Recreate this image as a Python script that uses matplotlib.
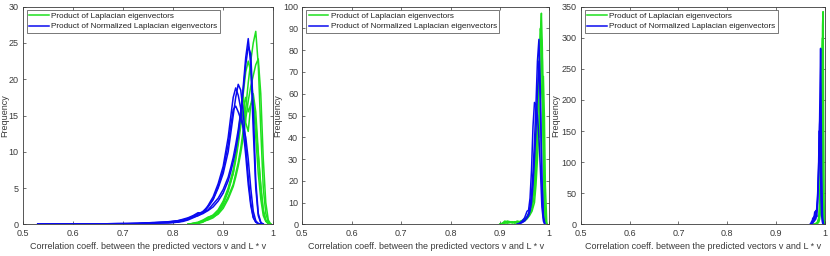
import numpy as np
import matplotlib
matplotlib.use("Agg")
import matplotlib.pyplot as plt

plt.rcParams['font.family'] = ['Liberation Sans', 'DejaVu Sans']

#legend labels and axis texts
green_label = 'Product of Laplacian eigenvectors'
blue_label = 'Product of Normalized Laplacian eigenvectors'
x_text = 'Correlation coeff. between the predicted vectors v and L * v'
y_text = 'Frequency'

x_ticks = [0.5, 0.6, 0.7, 0.8, 0.9, 1.0]
x_tick_labels = ['0.5', '0.6', '0.7', '0.8', '0.9', '1']

#panel 1 : green curves
gx1 = [0.830, 0.850, 0.860, 0.870, 0.880, 0.890, 0.900, 0.910, 0.920, 0.925, 0.930, 0.935,
       0.940, 0.945, 0.950, 0.955, 0.960, 0.965, 0.970, 0.975, 0.980, 0.985, 0.990, 0.995]
g1_a = [0, 0.2, 0.4, 0.6, 0.9, 1.5, 2.5, 3.8, 5.5, 7.0, 8.5, 10.5, 13.0, 16.0, 19.5, 22.5, 25.0, 26.6, 22.0, 13.0, 5.0, 1.5, 0.3, 0]
g1_b = [0, 0.1, 0.3, 0.8, 1.0, 1.4, 2.2, 3.5, 5.2, 6.5, 8.0, 9.8, 12.0, 14.5, 17.0, 19.0, 20.5, 22.0, 22.8, 18.0, 9.0, 3.0, 0.6, 0]
g1_c = [0, 0.2, 0.5, 0.9, 1.3, 2.0, 3.2, 5.0, 7.5, 9.2, 11.5, 14.5, 18.0, 21.0, 22.5, 21.0, 17.0, 12.0, 7.0, 3.5, 1.2, 0.4, 0.1, 0]
g1_d = [0, 0.3, 0.6, 1.0, 1.2, 1.6, 2.8, 4.5, 7.0, 9.5, 12.5, 15.5, 17.8, 14.0, 12.8, 16.5, 18.0, 15.5, 10.0, 5.0, 1.8, 0.5, 0.1, 0]
g1_e = [0, 0.2, 0.4, 0.7, 1.1, 1.8, 3.0, 4.8, 7.0, 8.8, 11.0, 13.5, 16.0, 17.5, 15.5, 16.5, 17.0, 14.0, 9.5, 5.5, 2.0, 0.6, 0.1, 0]

#panel 1 : blue curves
bx1 = [0.530, 0.570, 0.610, 0.650, 0.690, 0.730, 0.760, 0.790, 0.810, 0.820, 0.830, 0.840,
       0.850, 0.860, 0.870, 0.880, 0.890, 0.900, 0.910, 0.915, 0.920, 0.925, 0.930, 0.935,
       0.940, 0.945, 0.950, 0.955, 0.960, 0.965, 0.970, 0.975, 0.980]
b1_a = [0.0, 0.05, 0.05, 0.0, 0.05, 0.1, 0.2, 0.2, 0.3, 0.4, 0.6, 0.9, 1.2, 1.5, 1.9, 2.4, 3.2,
        4.3, 6.0, 7.2, 8.6, 10.2, 12.2, 15.0, 19.0, 23.0, 25.6, 22.0, 13.0, 5.0, 1.2, 0.2, 0.0]
b1_b = [0.0, 0.03, 0.05, 0.05, 0.03, 0.1, 0.15, 0.2, 0.3, 0.5, 0.7, 1.1, 1.5, 1.6, 2.0, 2.8, 3.6,
        4.8, 6.5, 7.8, 9.2, 11.0, 13.0, 15.5, 18.5, 22.0, 24.5, 23.5, 16.0, 6.0, 1.5, 0.3, 0.0]
b1_c = [0.05, 0.0, 0.05, 0.05, 0.1, 0.1, 0.25, 0.3, 0.5, 0.6, 0.8, 1.0, 1.2, 1.6, 2.4, 3.4, 5.0,
        7.0, 10.0, 12.5, 15.0, 17.5, 19.3, 18.5, 15.5, 11.0, 6.5, 3.0, 1.0, 0.3, 0.1, 0.0, 0.0]
b1_d = [0.0, 0.05, 0.03, 0.05, 0.1, 0.15, 0.2, 0.35, 0.5, 0.7, 0.9, 1.2, 1.6, 1.5, 2.6, 3.8, 5.6,
        8.0, 12.0, 14.8, 17.5, 18.8, 17.8, 16.0, 13.0, 9.5, 5.5, 2.6, 0.9, 0.3, 0.1, 0.0, 0.0]
b1_e = [0.0, 0.03, 0.05, 0.03, 0.05, 0.1, 0.2, 0.3, 0.4, 0.6, 0.8, 1.1, 1.4, 1.8, 2.5, 3.5, 5.2,
        7.5, 11.0, 13.5, 15.8, 16.3, 15.5, 14.5, 13.5, 12.0, 9.0, 5.0, 1.8, 0.5, 0.1, 0.0, 0.0]

#panel 2 : green curves
gx2 = [0.900, 0.905, 0.910, 0.915, 0.920, 0.925, 0.930, 0.935, 0.940, 0.945, 0.950, 0.955, 0.960,
       0.965, 0.970, 0.973, 0.976, 0.979, 0.982, 0.984, 0.986, 0.988, 0.990, 0.992, 0.995]
g2_a = [0, 0.5, 1.5, 1.0, 0.8, 1.2, 0.5, 0.8, 1.0, 1.5, 2.0, 3.0, 4.5, 7.0, 14.0, 25.0, 42.0, 65.0, 88.0, 97.0, 80.0, 45.0, 15.0, 3.0, 0]
g2_b = [0, 0.3, 0.8, 1.5, 1.2, 0.6, 1.0, 0.7, 1.2, 1.8, 2.5, 3.5, 5.0, 9.0, 18.0, 30.0, 48.0, 72.0, 90.0, 85.0, 60.0, 30.0, 10.0, 2.0, 0]
g2_c = [0, 0.2, 0.5, 0.8, 1.0, 0.8, 1.2, 1.0, 0.6, 1.0, 1.5, 2.5, 4.0, 6.0, 10.0, 18.0, 30.0, 44.0, 55.0, 62.0, 66.0, 68.0, 50.0, 18.0, 0]
g2_d = [0, 0.4, 1.0, 0.5, 0.8, 1.0, 0.8, 1.5, 1.2, 1.5, 2.0, 3.5, 6.0, 12.0, 25.0, 36.0, 44.0, 40.0, 60.0, 85.0, 75.0, 40.0, 12.0, 2.0, 0]

#panel 2 : blue curves
bx2 = [0.935, 0.940, 0.945, 0.950, 0.955, 0.958, 0.961, 0.964, 0.967, 0.970, 0.973, 0.976,
       0.979, 0.982, 0.985, 0.988, 0.991]
b2_a = [0, 0.5, 1.0, 2.0, 3.5, 5.0, 8.0, 14.0, 24.0, 38.0, 55.0, 75.0, 85.0, 60.0, 22.0, 4.0, 0]
b2_b = [0, 0.3, 0.8, 1.5, 3.0, 4.0, 6.0, 10.0, 18.0, 30.0, 43.0, 60.0, 75.0, 55.0, 20.0, 3.0, 0]
b2_c = [0, 0.5, 1.5, 3.0, 6.0, 6.5, 12.0, 25.0, 45.0, 56.0, 55.0, 50.0, 40.0, 25.0, 8.0, 1.5, 0]

#panel 3 : green curves
gx3 = [0.975, 0.980, 0.984, 0.987, 0.989, 0.990, 0.991, 0.992, 0.993, 0.994, 0.995, 0.996, 0.997, 0.998, 0.999]
g3_a = [0, 0, 1, 3, 8, 15, 30, 60, 120, 220, 320, 342, 200, 40, 0]
g3_b = [0, 0, 2, 5, 15, 30, 60, 120, 200, 280, 300, 200, 80, 10, 0]
g3_c = [0, 1, 3, 10, 40, 90, 160, 220, 250, 200, 120, 50, 10, 0, 0]

#panel 3 : blue curves
bx3 = [0.970, 0.973, 0.975, 0.977, 0.979, 0.981, 0.983, 0.985, 0.987, 0.988, 0.989, 0.990,
       0.991, 0.992, 0.993, 0.995, 0.997]
b3_a = [0, 2, 10, 4, 15, 8, 20, 40, 90, 130, 170, 230, 283, 200, 90, 10, 0]
b3_b = [0, 0, 5, 12, 6, 22, 12, 35, 80, 120, 160, 180, 150, 90, 40, 5, 0]
b3_c = [0, 5, 2, 8, 20, 10, 25, 50, 100, 150, 150, 120, 80, 40, 15, 2, 0]

panels = [
    (gx1, [g1_a, g1_b, g1_c, g1_d, g1_e], bx1, [b1_a, b1_b, b1_c, b1_d, b1_e], 30, 5),
    (gx2, [g2_a, g2_b, g2_c, g2_d], bx2, [b2_a, b2_b, b2_c], 100, 10),
    (gx3, [g3_a, g3_b, g3_c], bx3, [b3_a, b3_b, b3_c], 350, 50),
]

#axes boxes in pixels (left, width, ylabel offset from axis)
W, H = 830, 256
boxes = [(22.7, 250.6, -17.5), (302.3, 247.0, -25.0), (580.7, 244.3, -25.0)]
top_px, bottom_px = 6.7, 224.3

green = '#1fe01f'
blue = '#0b0bef'
axis_col = '#3a3a3a'

fig = plt.figure(figsize=(W / 100, H / 100), dpi=100)

for (gx, gys, bx, bys, ymax, ystep), (left, width, yoff) in zip(panels, boxes):
    ax = fig.add_axes([left / W, 1 - bottom_px / H, width / W, (bottom_px - top_px) / H])
    for i, gy in enumerate(gys):
        ax.plot(gx, gy, color=green, lw=1.1, label=green_label if i == 0 else None)
    for i, by in enumerate(bys):
        ax.plot(bx, by, color=blue, lw=1.1, label=blue_label if i == 0 else None)

    ax.set_xlim(0.5, 1.0)
    ax.set_ylim(0, ymax)
    ax.set_xticks(x_ticks)
    ax.set_xticklabels(x_tick_labels)
    ax.set_yticks(np.arange(0, ymax + 1, ystep))
    ax.tick_params(direction='in', length=2.2, width=0.5, labelsize=6.5, colors=axis_col,
                   top=True, right=True)
    ax.tick_params(axis='x', pad=3.5)
    ax.tick_params(axis='y', pad=3.0)
    for s in ax.spines.values():
        s.set_linewidth(0.6)
        s.set_color(axis_col)
    ax.set_xlabel(x_text, fontsize=6.5, color=axis_col, labelpad=2.5)
    ax.set_ylabel(y_text, fontsize=6.5, color=axis_col, va='center')
    ax.yaxis.set_label_coords(yoff / width, 0.5)

    leg = ax.legend(loc='upper left', bbox_to_anchor=(4.0 / width, 1 - 3.0 / (bottom_px - top_px)),
                    borderaxespad=0, fontsize=5.9, frameon=True, fancybox=False,
                    handlelength=2.4, handletextpad=0.3, borderpad=0.3, labelspacing=0.35)
    leg.get_frame().set_edgecolor(axis_col)
    leg.get_frame().set_linewidth(0.6)
    for t in leg.get_texts():
        t.set_color('#202020')

fig.savefig('out.png', dpi=100)
